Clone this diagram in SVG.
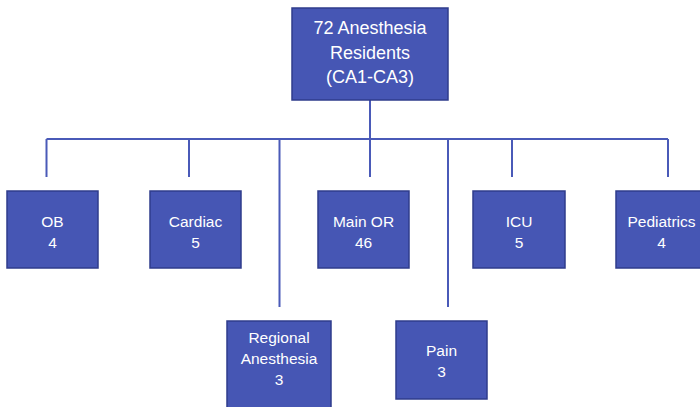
<svg xmlns="http://www.w3.org/2000/svg" width="700" height="407" viewBox="0 0 700 407">
<style>
.box{fill:#4656B4;stroke:#2F3C8C;stroke-width:1.5}
.t{fill:#ffffff;font-family:"Liberation Sans",Arial,sans-serif;font-size:15.5px;text-anchor:middle}
.tt{font-size:18px}
.c{stroke:#4A5AB8;stroke-width:2;fill:none}
</style>
<rect width="700" height="407" fill="#ffffff"/>
<g id="connectors">
<path class="c" d="M370 100V139M46.5 139H668M46.5 139V177M189 139V177M370 139V177M512 139V177M668 139V177M279.5 139V307M448 139V307"/>
</g>
<g id="root"><rect class="box" x="292" y="8" width="156" height="92"/>
<text class="t tt" x="370" y="34">72 Anesthesia</text><text class="t tt" x="370" y="59">Residents</text><text class="t tt" x="370" y="83">(CA1-CA3)</text></g>
<g id="ob"><rect class="box" x="7" y="191" width="91" height="77"/><text class="t" x="52.5" y="227">OB</text><text class="t" x="52.5" y="247.5">4</text></g>
<g id="cardiac"><rect class="box" x="150" y="191" width="91" height="77"/><text class="t" x="195.5" y="227">Cardiac</text><text class="t" x="195.5" y="247.5">5</text></g>
<g id="mainor"><rect class="box" x="318" y="191" width="91" height="77"/><text class="t" x="363.5" y="227">Main OR</text><text class="t" x="363.5" y="247.5">46</text></g>
<g id="icu"><rect class="box" x="473" y="191" width="92" height="77"/><text class="t" x="519" y="227">ICU</text><text class="t" x="519" y="247.5">5</text></g>
<g id="pediatrics"><rect class="box" x="616" y="191" width="91" height="77"/><text class="t" x="661.5" y="227">Pediatrics</text><text class="t" x="661.5" y="247.5">4</text></g>
<g id="regional"><rect class="box" x="227" y="321" width="104" height="90"/><text class="t" x="279" y="343">Regional</text><text class="t" x="279" y="364">Anesthesia</text><text class="t" x="279" y="385">3</text></g>
<g id="pain"><rect class="box" x="396" y="321" width="91" height="78"/><text class="t" x="441.5" y="356">Pain</text><text class="t" x="441.5" y="377">3</text></g>
</svg>
